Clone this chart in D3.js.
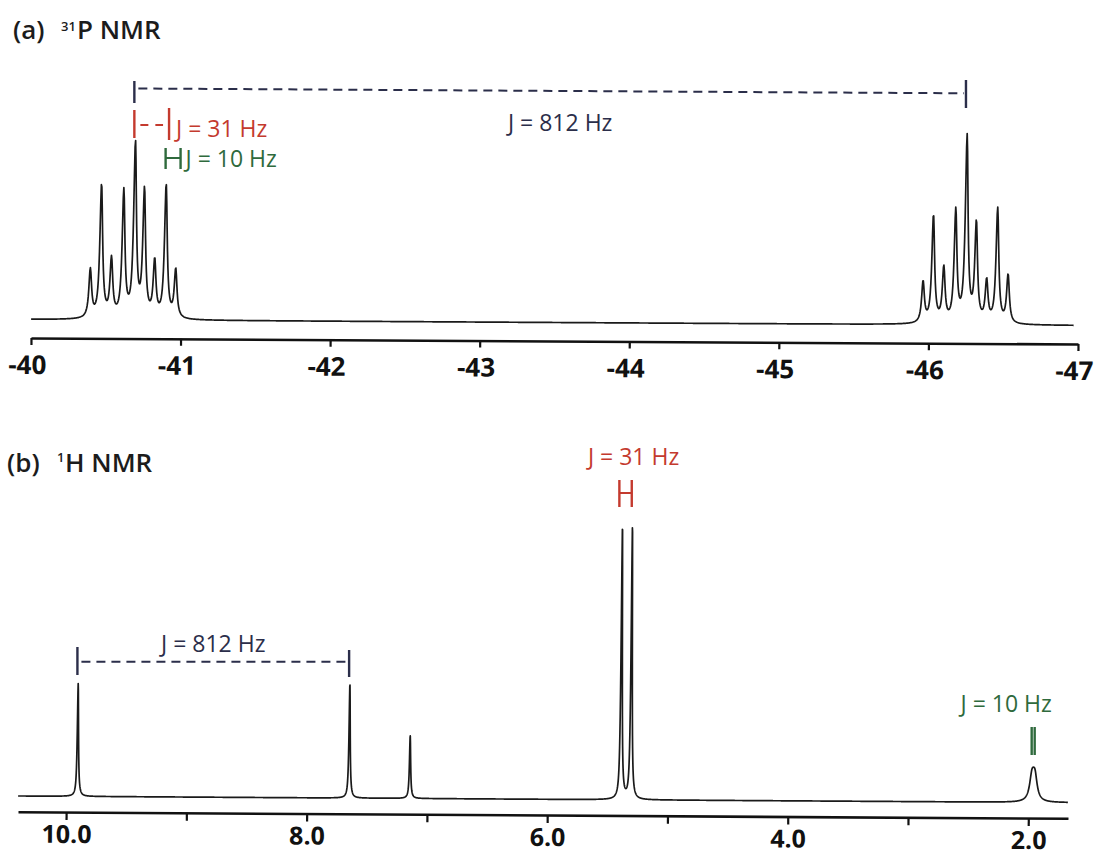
<!DOCTYPE html>
<html><head><meta charset="utf-8">
<script src="https://cdn.jsdelivr.net/npm/d3@7"></script>
<style>body{margin:0;background:#fff;} svg{display:block}</style>
</head><body><svg id="c" width="1094" height="856"></svg>
<script>
// ---- Panel (a): 31P NMR ----
const pPpm = [-40.394,-40.466,-40.535,-40.615,-40.691,-40.753,-40.824,-40.898,-40.965,
              -45.962,-46.029,-46.100,-46.178,-46.251,-46.316,-46.387,-46.458,-46.530];
const pInt = [0.26,0.72,0.31,0.68,0.935,0.68,0.30,0.72,0.26,
              0.22,0.58,0.29,0.60,1.0,0.53,0.22,0.62,0.26];
const pFwhm = [0.022,0.022,0.022,0.022,0.022,0.022,0.022,0.022,0.022,
               0.022,0.022,0.022,0.022,0.022,0.022,0.022,0.022,0.022];
const pTicks = [-40,-41,-42,-43,-44,-45,-46,-47];

// ---- Panel (b): 1H NMR ----
const hPpm = [9.906, 7.647, 7.143, 5.389, 5.306, 1.972, 1.947];
const hInt = [0.412, 0.418, 0.23, 1.0, 1.0, 0.084, 0.084];
const hFwhm = [0.012, 0.012, 0.012, 0.012, 0.012, 0.045, 0.045];
const hTicks = [10,9,8,7,6,5,4,3,2];
const hLabelTicks = [10,8,6,4,2];

// J annotations (ppm positions)
const jP812 = [-40.691, -46.251];
const jP31 = [-40.691, -40.923];
const jP10 = [-40.900, -41.000];
const jH812 = [9.906, 7.647];
const jH31 = [5.400, 5.297];
const jH10 = [1.972, 1.947];

const RED = "#c43a2e", GREEN = "#2f6a3d", NAVY = "#2b2e4a", INK = "#1a1a1a";
const FONT = "'Open Sans', 'DejaVu Sans', sans-serif";

const svg = d3.select("#c");

function lor(ppmArr, intArr, fwArr, x) {
  let s = 0;
  for (let i = 0; i < ppmArr.length; i++) {
    const g = fwArr[i] / 2, d = x - ppmArr[i];
    s += intArr[i] * g * g / (d * d + g * g);
  }
  return s;
}

function spectrum(g, xs, ys, ppmArr, intArr, fwArr, step) {
  const [r0, r1] = xs.range();
  const pts = [];
  for (let px = r0; px <= r1; px += step) {
    const p = xs.invert(px);
    pts.push([p, lor(ppmArr, intArr, fwArr, p)]);
  }
  g.append("path")
    .attr("d", d3.line().x(d => xs(d[0])).y(d => ys(d[1]))(pts))
    .attr("fill", "none").attr("stroke", INK).attr("stroke-width", 1.7)
    .attr("stroke-linejoin", "round");
}

function styleAxis(ax) {
  ax.select(".domain").attr("stroke", "#111").attr("stroke-width", 2.6);
  ax.selectAll(".tick line").attr("stroke", "#111").attr("stroke-width", 2.2);
}

// ===== Panel (a) =====
const xsA = d3.scaleLinear().domain([-40, -47]).range([31, 1078]);
const ysA = d3.scaleLinear().domain([0, 1]).range([319.5, 134.5]);
const gA = svg.append("g").attr("transform", "rotate(0.33,31,338)");
spectrum(gA, d3.scaleLinear().domain([-40, -46.97]).range([31, xsA(-46.97)]), ysA, pPpm, pInt, pFwhm, 0.5);
const axA = gA.append("g").attr("transform", "translate(0,338)")
  .call(d3.axisBottom(xsA).tickValues(pTicks).tickSize(7).tickSizeOuter(0).tickFormat(d => String(d)));
styleAxis(axA);
axA.selectAll(".tick text").attr("y", 36).attr("dy", 0).attr("dx", -4)
  .attr("font-family", FONT).attr("font-weight", 700).attr("font-size", 26).attr("fill", "#111");

// title (a)
const tA = svg.append("text").attr("font-family", FONT).attr("font-weight", 600).attr("fill", "#1c1c1c");
tA.append("tspan").attr("x", 13).attr("y", 39).attr("font-size", 26).text("(a)");
tA.append("tspan").attr("x", 61).attr("y", 31).attr("font-size", 13).text("31");
tA.append("tspan").attr("x", 77).attr("y", 39).attr("font-size", 26).text("P NMR");

// annotations (a)
function vline(x, y1, y2, c) {
  svg.append("line").attr("x1", x).attr("x2", x).attr("y1", y1).attr("y2", y2)
    .attr("stroke", c).attr("stroke-width", 2.4);
}
function hline(x1, x2, y1, y2, c, dash) {
  svg.append("line").attr("x1", x1).attr("x2", x2).attr("y1", y1).attr("y2", y2)
    .attr("stroke", c).attr("stroke-width", 2).attr("stroke-dasharray", dash || null);
}
function label(x, y, txt, c, anchor) {
  svg.append("text").attr("x", x).attr("y", y).attr("text-anchor", anchor || "start")
    .attr("font-family", FONT).attr("font-weight", 500).attr("font-size", 23).attr("fill", c).text(txt);
}
// J = 812 Hz
const a812L = xsA(jP812[0]), a812R = xsA(jP812[1]);
vline(a812L, 81, 103, NAVY); vline(a812R, 80, 108, NAVY);
hline(a812L + 4, a812R - 2, 88.5, 93.3, NAVY, "9,6");
label((a812L + a812R) / 2 + 10, 131, "J = 812 Hz", NAVY, "middle");
// J = 31 Hz
const a31L = xsA(jP31[0]), a31R = xsA(jP31[1]);
vline(a31L, 110, 138, RED); vline(a31R, 108, 140, RED);
hline(a31L + 6, a31R - 6, 125, 125, RED, "8,7");
label(a31R + 7, 137, "J = 31 Hz", RED);
// J = 10 Hz
const a10L = xsA(jP10[0]), a10R = xsA(jP10[1]);
vline(a10L, 148, 169, GREEN); vline(a10R, 148, 169, GREEN);
hline(a10L, a10R, 158, 158, GREEN);
label(a10R + 5, 167, "J = 10 Hz", GREEN);

// ===== Panel (b) =====
const xsB = d3.scaleLinear().domain([10.4, 1.67]).range([18, 1068]);
const ysB = d3.scaleLinear().domain([0, 1]).range([796, 522]);
const gB = svg.append("g").attr("transform", "rotate(0.36,18,811.7)");
spectrum(gB, xsB, ysB, hPpm, hInt, hFwhm, 0.2);
const axB = gB.append("g").attr("transform", "translate(0,811.7)")
  .call(d3.axisBottom(xsB).tickValues(hTicks).tickSize(8).tickSizeOuter(0)
    .tickFormat(d => hLabelTicks.includes(d) ? d3.format(".1f")(d) : ""));
styleAxis(axB);
axB.selectAll(".tick text").attr("y", 31).attr("dy", 0)
  .attr("font-family", FONT).attr("font-weight", 700).attr("font-size", 25).attr("fill", "#111");

// title (b)
const tB = svg.append("text").attr("font-family", FONT).attr("font-weight", 600).attr("fill", "#1c1c1c");
tB.append("tspan").attr("x", 7).attr("y", 472).attr("font-size", 26).text("(b)");
tB.append("tspan").attr("x", 57).attr("y", 462).attr("font-size", 13).text("1");
tB.append("tspan").attr("x", 65).attr("y", 472).attr("font-size", 26).text("H NMR");

// annotations (b)
const b812L = xsB(jH812[0]), b812R = xsB(jH812[1]);
vline(b812L, 647, 675, NAVY); vline(b812R, 650, 677, NAVY);
hline(b812L + 4, b812R - 2, 661.7, 661.7, NAVY, "9,6");
label((b812L + b812R) / 2, 652, "J = 812 Hz", NAVY, "middle");
const b31L = xsB(jH31[0]), b31R = xsB(jH31[1]);
vline(b31L, 480, 507, RED); vline(b31R, 480, 507, RED);
hline(b31L, b31R, 493, 493, RED);
label((b31L + b31R) / 2 + 8, 465, "J = 31 Hz", RED, "middle");
const b10L = xsB(jH10[0]), b10R = xsB(jH10[1]);
vline(b10L, 727, 755, GREEN); vline(b10R, 727, 755, GREEN);
label((b10L + b10R) / 2 - 27, 712, "J = 10 Hz", GREEN, "middle");
</script></body></html>
